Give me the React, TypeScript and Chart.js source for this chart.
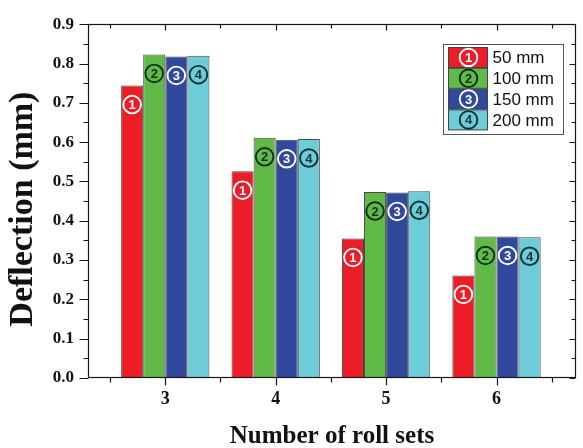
import { useEffect, useRef } from 'react';
import { Chart, registerables } from 'chart.js';

Chart.register(...registerables);

// Deflection per number of roll sets, for each roll spacing
const rollSets = [3, 4, 5, 6];
const seriesNames = ['50 mm', '100 mm', '150 mm', '200 mm'];
const seriesMarks = ['1', '2', '3', '4'];
const deflection50 = [0.744, 0.526, 0.355, 0.261];
const deflection100 = [0.823, 0.611, 0.473, 0.36];
const deflection150 = [0.818, 0.606, 0.472, 0.36];
const deflection200 = [0.82, 0.608, 0.475, 0.358];

const yMajorTicks = [0, 0.1, 0.2, 0.3, 0.4, 0.5, 0.6, 0.7, 0.8, 0.9];
const yMinorTicks = [0.05, 0.15, 0.25, 0.35, 0.45, 0.55, 0.65, 0.75, 0.85];
const xMinorTicks = [2.5, 3.5, 4.5, 5.5, 6.5];
const yTitle = 'Deflection (mm)';

const barFills = ['#ec1d26', '#61ba47', '#30499d', '#6ecbd8'];
const markColors = ['#ffffff', '#10301a', '#ffffff', '#0e3338'];
const serif = '"Liberation Serif", "Times New Roman", serif';
const sans = '"Liberation Sans", Arial, sans-serif';

function drawMark(ctx: CanvasRenderingContext2D, cx: number, cy: number, i: number) {
  ctx.save();
  ctx.strokeStyle = markColors[i];
  ctx.fillStyle = markColors[i];
  ctx.lineWidth = 1.9;
  ctx.beginPath();
  ctx.arc(cx, cy, 8.8, 0, Math.PI * 2);
  ctx.stroke();
  ctx.font = `bold 13px ${sans}`;
  ctx.textAlign = 'center';
  ctx.textBaseline = 'middle';
  ctx.fillText(seriesMarks[i], cx, cy + 1);
  ctx.restore();
}

const frameAndMarks = {
  id: 'frameAndMarks',
  afterDatasetsDraw(chart: any) {
    const { ctx, chartArea: a } = chart;
    const xs = chart.scales.x;
    const ys = chart.scales.y;
    const L = Math.round(a.left) + 0.5;
    const R = Math.round(a.right) - 0.5;
    const T = Math.round(a.top) + 0.5;
    const B = Math.round(a.bottom) - 0.5;

    // circled series numbers on every bar
    chart.data.datasets.forEach((_ds: any, i: number) => {
      const meta = chart.getDatasetMeta(i);
      meta.data.forEach((bar: any) => drawMark(ctx, bar.x, bar.y + 19, i));
    });

    ctx.save();
    ctx.strokeStyle = '#161616';
    ctx.lineWidth = 1.2;
    ctx.strokeRect(L, T, R - L, B - T);
    ctx.beginPath();
    const seg = (x1: number, y1: number, x2: number, y2: number) => {
      ctx.moveTo(x1, y1);
      ctx.lineTo(x2, y2);
    };
    for (const v of yMajorTicks) {
      const py = Math.round(ys.getPixelForValue(v)) + 0.5;
      seg(L - 9, py, L, py);
      seg(R, py, R - 6, py);
    }
    for (const v of yMinorTicks) {
      const py = Math.round(ys.getPixelForValue(v)) + 0.5;
      seg(L - 5, py, L, py);
      seg(R, py, R - 4, py);
    }
    for (const v of rollSets) {
      const px = Math.round(xs.getPixelForValue(v)) + 0.5;
      seg(px, B, px, B + 8);
      seg(px, T, px, T + 6);
    }
    for (const v of xMinorTicks) {
      const px = Math.round(xs.getPixelForValue(v)) + 0.5;
      seg(px, B, px, B + 5);
      seg(px, T, px, T + 4);
    }
    ctx.stroke();
    ctx.restore();

    // vertical axis title
    ctx.save();
    ctx.translate(23.5, (a.top + a.bottom) / 2 + 8);
    ctx.rotate(-Math.PI / 2);
    ctx.fillStyle = '#111';
    ctx.font = `bold 34px ${serif}`;
    ctx.textAlign = 'center';
    ctx.textBaseline = 'middle';
    ctx.fillText(yTitle, 0, 0);
    ctx.restore();

    // legend box in the upper right corner
    const boxW = 120;
    const boxH = 90;
    const bx = Math.round(a.right) - 13 - boxW + 0.5;
    const by = Math.round(a.top) + 20 + 0.5;
    ctx.save();
    ctx.fillStyle = '#ffffff';
    ctx.fillRect(bx, by, boxW, boxH);
    ctx.strokeStyle = '#555';
    ctx.lineWidth = 1;
    ctx.strokeRect(bx, by, boxW, boxH);
    const rowH = 20.8;
    seriesNames.forEach((name, i) => {
      const ry = by + 3 + i * rowH;
      ctx.fillStyle = barFills[i];
      ctx.fillRect(bx + 5, ry, 39, 20);
      ctx.strokeStyle = '#444';
      ctx.strokeRect(bx + 5, ry, 39, 20);
      drawMark(ctx, bx + 25, ry + 10, i);
      ctx.fillStyle = '#111';
      ctx.font = `17px ${sans}`;
      ctx.textAlign = 'left';
      ctx.textBaseline = 'middle';
      ctx.fillText(name, bx + 49, ry + 11);
    });
    ctx.restore();
  },
};

export default function App() {
  const canvasRef = useRef<HTMLCanvasElement>(null);

  useEffect(() => {
    const series = [deflection50, deflection100, deflection150, deflection200];
    const chart = new Chart(canvasRef.current as HTMLCanvasElement, {
      type: 'bar',
      data: {
        datasets: series.map((values, i) => ({
          label: seriesNames[i],
          data: rollSets.map((r, k) => ({ x: r, y: values[k] })),
          backgroundColor: barFills[i],
          borderColor: '#4a4a4a',
          borderWidth: 1,
          categoryPercentage: 0.8,
          barPercentage: 1,
        })),
      },
      options: {
        animation: false,
        responsive: true,
        maintainAspectRatio: false,
        layout: { padding: { top: 18, right: 7, left: 0, bottom: 0 } },
        plugins: {
          legend: { display: false },
          tooltip: { enabled: false },
        },
        scales: {
          x: {
            type: 'linear',
            offset: false,
            min: 2.3,
            max: 6.72,
            afterBuildTicks: (s: any) => {
              s.ticks = rollSets.map((v) => ({ value: v }));
            },
            grid: { display: false, drawTicks: false, offset: false },
            border: { display: false },
            ticks: {
              padding: 11,
              color: '#111',
              autoSkip: false,
              maxRotation: 0,
              font: { family: serif, size: 18, weight: 'bold' },
              callback: (v: any) => String(v),
            },
            title: {
              display: true,
              text: 'Number of roll sets',
              color: '#111',
              font: { family: serif, size: 25, weight: 'bold', lineHeight: 1 },
              padding: { top: 0, bottom: -1 },
            },
            afterFit: (s: any) => {
              s.height = 70;
            },
          },
          y: {
            min: 0,
            max: 0.9,
            afterBuildTicks: (s: any) => {
              s.ticks = yMajorTicks.map((v) => ({ value: v }));
            },
            grid: { display: false, drawTicks: false },
            border: { display: false },
            ticks: {
              padding: 14,
              color: '#111',
              font: { family: serif, size: 17, weight: 'bold' },
              callback: (v: any) => Number(v).toFixed(1),
            },
            title: { display: false },
            afterFit: (s: any) => {
              s.width = 88;
            },
          },
        },
      } as any,
      plugins: [frameAndMarks],
    });
    return () => chart.destroy();
  }, []);

  return (
    <div style={{ position: 'absolute', left: 0, top: 0, width: 583, height: 448, background: '#fff' }}>
      <canvas ref={canvasRef} />
    </div>
  );
}
